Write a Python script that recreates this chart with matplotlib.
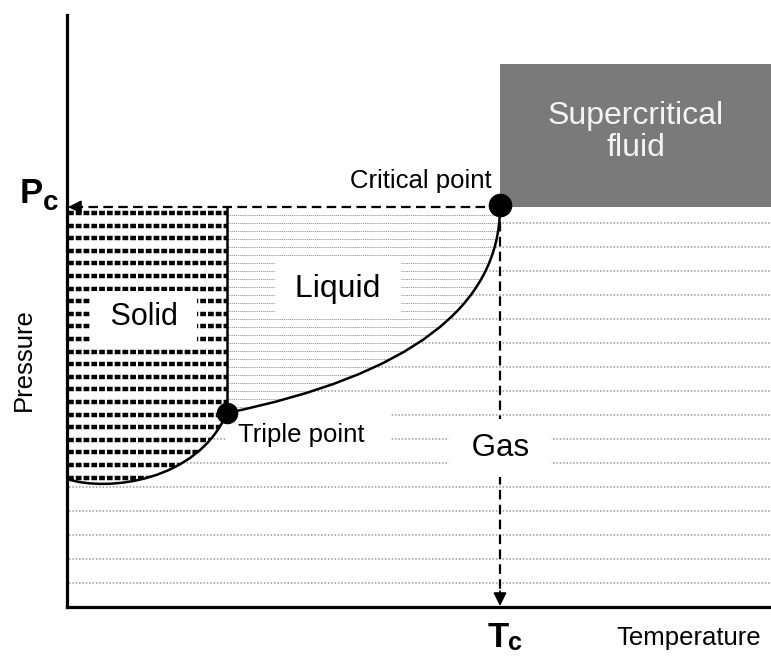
import matplotlib.pyplot as plt
import numpy as np
from matplotlib.path import Path
from matplotlib.patches import PathPatch, Rectangle

plt.rcParams['font.family'] = ['Liberation Sans', 'DejaVu Sans']

# schematic phase diagram, arbitrary units (origin = axes corner)
T_max, P_max = 704, 592
T_c, P_c = 433, 400          # critical point
T_tp, P_tp = 160, 194        # triple point
P_scf_top = 543              # top of the supercritical box

# sublimation curve: start on pressure axis, two bezier controls, end at triple point
subl_T = [0, 40, 130, T_tp]
subl_P = [128, 115, 125, P_tp]
# vaporisation curve: triple point, one bezier control, critical point
vap_T = [T_tp, T_c, T_c]
vap_P = [P_tp, 250, P_c]

fig = plt.figure(figsize=(7.71, 6.57), dpi=100)
ax = fig.add_axes([67/771, 50/657, 704/771, 592/657])
ax.set_xlim(0, T_max)
ax.set_ylim(0, P_max)
ax.set_xticks([])
ax.set_yticks([])
for s in ['top', 'right']:
    ax.spines[s].set_visible(False)
for s in ['left', 'bottom']:
    ax.spines[s].set_linewidth(2.3)
    ax.spines[s].set_zorder(10)

# gas region: dotted lines everywhere below Pc
gas_P = np.arange(384, 20, -24)
for p in gas_P:
    ax.plot([2, T_max], [p, p], color='#9a9a9a', lw=1.1, dashes=(1, 1.2), zorder=1)

# liquid region
liq_path = Path([(T_tp, P_tp), (T_tp, P_c), (T_c, P_c), (vap_T[1], vap_P[1]), (T_tp, P_tp), (T_tp, P_tp)],
                [Path.MOVETO, Path.LINETO, Path.LINETO, Path.CURVE3, Path.CURVE3, Path.CLOSEPOLY])
liq_patch = PathPatch(liq_path, facecolor='white', edgecolor='none', zorder=2)
ax.add_patch(liq_patch)
for p in np.arange(392, P_tp - 8, -8):
    ln, = ax.plot([T_tp, T_c], [p, p], color='#8c8c8c', lw=0.6, dashes=(1.5, 1), zorder=3)
    ln.set_clip_path(liq_patch)

# solid region
sol_path = Path([(0, P_c), (T_tp, P_c), (T_tp, P_tp), (subl_T[2], subl_P[2]), (subl_T[1], subl_P[1]),
                 (subl_T[0], subl_P[0]), (0, P_c)],
                [Path.MOVETO, Path.LINETO, Path.LINETO, Path.CURVE4, Path.CURVE4, Path.CURVE4, Path.CLOSEPOLY])
sol_patch = PathPatch(sol_path, facecolor='white', edgecolor='none', zorder=2)
ax.add_patch(sol_patch)
for p in np.arange(394, 115, -12.6):
    ln, = ax.plot([1, T_tp], [p, p], color='black', lw=3.2, dashes=(1.3, 0.45),
                  solid_capstyle='butt', dash_capstyle='butt', zorder=3)
    ln.set_clip_path(sol_patch)

# phase boundaries
subl_curve = Path(list(zip(subl_T, subl_P)), [Path.MOVETO, Path.CURVE4, Path.CURVE4, Path.CURVE4])
ax.add_patch(PathPatch(subl_curve, facecolor='none', edgecolor='black', lw=1.8, zorder=6))
vap_curve = Path(list(zip(vap_T, vap_P)), [Path.MOVETO, Path.CURVE3, Path.CURVE3])
ax.add_patch(PathPatch(vap_curve, facecolor='none', edgecolor='black', lw=1.8, zorder=6))
ax.plot([T_tp, T_tp], [P_tp, P_c], color='black', lw=1.8, zorder=6)

# supercritical fluid box
ax.add_patch(Rectangle((T_c, P_c), T_max - T_c, P_scf_top - P_c, facecolor='#7a7a7a', edgecolor='none', zorder=2))
ax.text((T_c + T_max) / 2, 475, 'Supercritical\nfluid', color='#f4f4f4', fontsize=23,
        ha='center', va='center', linespacing=1.1, zorder=5)

# dashed guides to Pc and Tc
ax.plot([T_c, 12], [P_c, P_c], color='black', lw=1.6, dashes=(4.3, 2.4), zorder=4)
ax.annotate('', xy=(1, P_c), xytext=(15, P_c),
            arrowprops=dict(arrowstyle='-|>', color='black', lw=1.2, mutation_scale=20, shrinkA=0, shrinkB=0),
            zorder=4)
ax.plot([T_c, T_c], [P_c, 14], color='black', lw=1.6, dashes=(4.3, 2.4), zorder=4)
ax.annotate('', xy=(T_c, 1), xytext=(T_c, 16),
            arrowprops=dict(arrowstyle='-|>', color='black', lw=1.2, mutation_scale=20, shrinkA=0, shrinkB=0),
            zorder=4)

# points
ax.plot([T_c], [P_c + 2], 'o', color='black', ms=16, zorder=8)
ax.plot([T_tp], [P_tp], 'o', color='black', ms=14.5, zorder=8)

# region labels with white backgrounds
box = dict(facecolor='white', edgecolor='none', boxstyle='square,pad=0.35')
ax.text(271, 310, ' Liquid ', fontsize=23, ha='center', va='baseline', bbox=box, zorder=5)
ax.text(77, 282, ' Solid ', fontsize=22, ha='center', va='baseline', bbox=box, zorder=5)
ax.text(T_c, 151, ' Gas ', fontsize=22.5, ha='center', va='baseline',
        bbox=dict(facecolor='white', edgecolor='none', boxstyle='square,pad=0.45'), zorder=5)
ax.text(171, 165, 'Triple point  ', fontsize=18.5, ha='left', va='baseline',
        bbox=dict(facecolor='white', edgecolor='none', boxstyle='square,pad=0.45'), zorder=5)
ax.text(354, 419, 'Critical point', fontsize=18.5, ha='center', va='baseline', zorder=5)

# axis labels
ax.text(-47, 404, 'P', fontsize=25, fontweight='bold', ha='left', va='baseline', clip_on=False)
ax.text(-24, 397, 'c', fontsize=20, fontweight='bold', ha='left', va='baseline', clip_on=False)
ax.text(421, -40, 'T', fontsize=25, fontweight='bold', ha='left', va='baseline', clip_on=False)
ax.text(441, -43, 'c', fontsize=18, fontweight='bold', ha='left', va='baseline', clip_on=False)
ax.text(-43, 247, 'Pressure', fontsize=18.5, rotation=90, ha='center', va='center', clip_on=False)
ax.text(622, -38, 'Temperature', fontsize=18.5, ha='center', va='baseline', clip_on=False)

fig.savefig('out.png', dpi=100)
